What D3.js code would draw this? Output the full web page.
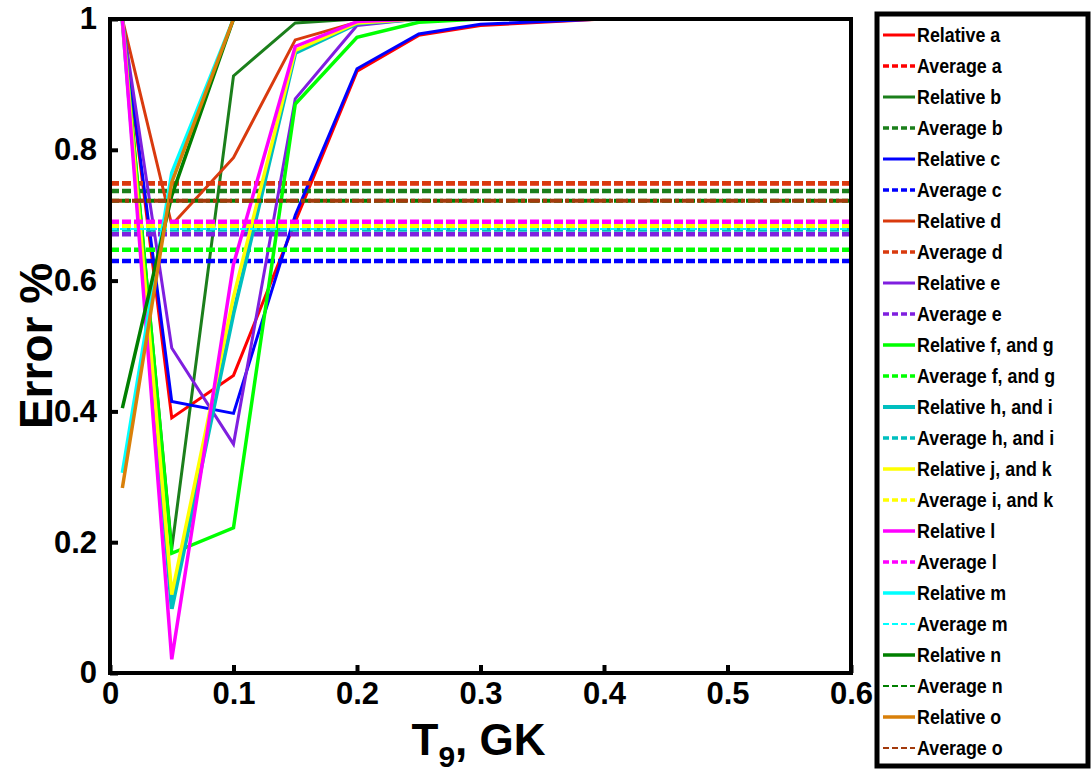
<!DOCTYPE html>
<html>
<head>
<meta charset="utf-8">
<script src="https://cdn.jsdelivr.net/npm/d3@7"></script>
<style>
  html, body { margin: 0; padding: 0; background: #fff; }
  svg { display: block; font-family: "Liberation Sans", Arial, sans-serif; font-weight: bold; }
</style>
</head>
<body>
<svg id="chart" width="1092" height="776"></svg>
<script>
// temperature points (T9, GK)
const tempPoints = [0.01, 0.05, 0.1, 0.15, 0.2, 0.25, 0.3, 0.4, 0.5, 0.6];

// relative error curves
const relA = [1, 0.39, 0.455, 0.69, 0.92, 0.975, 0.99, 1, 1, 1];
const relB = [1, 0.19, 0.913, 0.994, 1, 1, 1, 1, 1, 1];
const relC = [1, 0.415, 0.397, 0.7, 0.924, 0.977, 0.992, 1, 1, 1];
const relD = [1, 0.685, 0.788, 0.968, 0.995, 1, 1, 1, 1, 1];
const relE = [1, 0.497, 0.35, 0.878, 0.99, 1, 1, 1, 1, 1];
const relFG = [1, 0.183, 0.222, 0.87, 0.972, 0.995, 1, 1, 1, 1];
const relHI = [1, 0.098, 0.55, 0.948, 0.993, 1, 1, 1, 1, 1];
const relJK = [1, 0.12, 0.575, 0.952, 0.994, 1, 1, 1, 1, 1];
const relL = [1, 0.021, 0.625, 0.958, 0.996, 1, 1, 1, 1, 1];
const relM = [0.306, 0.765, 1, 1, 1, 1, 1, 1, 1, 1];
const relN = [0.405, 0.73, 1, 1, 1, 1, 1, 1, 1, 1];
const relO = [0.283, 0.75, 1, 1, 1, 1, 1, 1, 1, 1];

// average errors (horizontal dashed lines)
const avgA = 0.749, avgB = 0.737, avgC = 0.63, avgD = 0.749, avgE = 0.671,
  avgFG = 0.647, avgHI = 0.678, avgJK = 0.684, avgL = 0.69, avgM = 0.679,
  avgN = 0.722, avgO = 0.722;

const legendLabels = [
  'Relative a', 'Average a', 'Relative b', 'Average b', 'Relative c', 'Average c',
  'Relative d', 'Average d', 'Relative e', 'Average e', 'Relative f, and g', 'Average f, and g',
  'Relative h, and i', 'Average h, and i', 'Relative j, and k', 'Average i, and k',
  'Relative l', 'Average l', 'Relative m', 'Average m', 'Relative n', 'Average n',
  'Relative o', 'Average o',
];
const xTicks = [0, 0.1, 0.2, 0.3, 0.4, 0.5, 0.6];
const yTicks = [0, 0.2, 0.4, 0.6, 0.8, 1];

const rel = [relA, relB, relC, relD, relE, relFG, relHI, relJK, relL, relM, relN, relO];
const avg = [avgA, avgB, avgC, avgD, avgE, avgFG, avgHI, avgJK, avgL, avgM, avgN, avgO];
const colors = ['#ff0000', '#1b7f1b', '#0000ff', '#d93a0e', '#7f1fdf', '#00ff00',
  '#00bfbf', '#ffff00', '#ff00ff', '#00ffff', '#007f00', '#d9800a'];
const avgColors = colors.slice(0, 11).concat(['#a33a0c']);
const relWidth = [3, 3, 3, 3, 3, 3.5, 4, 3.5, 3.5, 3.5, 3.5, 3.5];
const avgWidth = [4.5, 4.5, 4.5, 4.5, 4.5, 4.5, 4.5, 4.5, 4.5, 2, 4, 4];
const avgDash = ['9,3', '9,3', '9,3', '9,3', '9,3', '9,3', '9,3', '9,3', '9,3', '7,3', '9,3', '12,3,4,3'];

// series in drawing order: relative then average for each group
const series = [];
rel.forEach((values, i) => {
  series.push({ label: legendLabels[2 * i], type: 'rel', values, color: colors[i], width: relWidth[i] });
  series.push({
    label: legendLabels[2 * i + 1], type: 'avg', value: avg[i], color: avgColors[i],
    width: avgWidth[i], dash: avgDash[i], thin: i >= 9,
  });
});

const svg = d3.select('#chart');
const margin = { left: 110, top: 19, right: 241, bottom: 103 };
const width = 1092 - margin.left - margin.right;
const height = 776 - margin.top - margin.bottom;

const x = d3.scaleLinear().domain([0, 0.6]).range([margin.left, margin.left + width]);
const y = d3.scaleLinear().domain([0, 1]).range([margin.top + height, margin.top]);

const plot = svg.append('g');
plot.append('clipPath').attr('id', 'clip')
  .append('rect').attr('x', x(0)).attr('y', y(1)).attr('width', width).attr('height', height);

const line = d3.line().x((d, i) => x(tempPoints[i])).y((d) => y(d));
const lines = plot.append('g').attr('clip-path', 'url(#clip)');
series.forEach((s) => {
  if (s.type === 'rel') {
    lines.append('path')
      .attr('d', line(s.values))
      .attr('fill', 'none')
      .attr('stroke', s.color)
      .attr('stroke-width', s.width)
      .attr('stroke-linejoin', 'miter');
  } else {
    lines.append('line')
      .attr('x1', x(0)).attr('x2', x(0.6))
      .attr('y1', y(s.value)).attr('y2', y(s.value))
      .attr('stroke', s.color)
      .attr('stroke-width', s.width)
      .attr('stroke-dasharray', s.dash);
  }
});

// axes frame and inward ticks
const xAxis = d3.axisBottom(x).tickValues(xTicks).tickSize(-8).tickPadding(12).tickFormat(d3.format('~g'));
const yAxis = d3.axisLeft(y).tickValues(yTicks).tickSize(-8).tickPadding(13).tickFormat(d3.format('~g'));
const gx = svg.append('g').attr('transform', `translate(0,${y(0)})`).call(xAxis);
const gy = svg.append('g').attr('transform', `translate(${x(0)},0)`).call(yAxis);
[gx, gy].forEach((g) => {
  g.select('.domain').remove();
  g.selectAll('.tick line').attr('stroke', '#000').attr('stroke-width', 4);
  g.selectAll('.tick text').attr('fill', '#000').style('font-size', '31px').style('font-weight', 'bold')
    .style('font-family', '"Liberation Sans", Arial, sans-serif');
});
gx.selectAll('.tick text').attr('dy', '0.62em');
svg.append('rect')
  .attr('x', x(0)).attr('y', y(1)).attr('width', width).attr('height', height)
  .attr('fill', 'none').attr('stroke', '#000').attr('stroke-width', 4);

// axis titles
svg.append('text')
  .attr('transform', `translate(52,${y(0.5)}) rotate(-90)`)
  .attr('text-anchor', 'middle')
  .style('font-size', '46px')
  .text('Error %');
const xt = svg.append('text')
  .attr('x', x(0.3) - 2).attr('y', 755)
  .attr('text-anchor', 'middle')
  .style('font-size', '44px');
xt.append('tspan').text('T');
xt.append('tspan').attr('dy', 12).style('font-size', '30px').text('9');
xt.append('tspan').attr('dy', -12).text(', GK');

// legend
const legend = svg.append('g');
legend.append('rect')
  .attr('x', 877).attr('y', 14).attr('width', 211).attr('height', 752)
  .attr('fill', '#fff').attr('stroke', '#000').attr('stroke-width', 5);
const rowY = d3.scalePoint().domain(legendLabels).range([35, 748]);
series.forEach((s) => {
  const ry = rowY(s.label);
  legend.append('line')
    .attr('x1', 883).attr('x2', 915).attr('y1', ry).attr('y2', ry)
    .attr('stroke', s.color)
    .attr('stroke-width', s.type === 'rel' ? s.width : (s.thin ? 2 : 3.5))
    .attr('stroke-dasharray', s.type === 'rel' ? null : '6,3');
  legend.append('text')
    .attr('transform', `translate(917,${ry + 7}) scale(0.85,1)`)
    .style('font-size', '21px')
    .text(s.label);
});
</script>
</body>
</html>
